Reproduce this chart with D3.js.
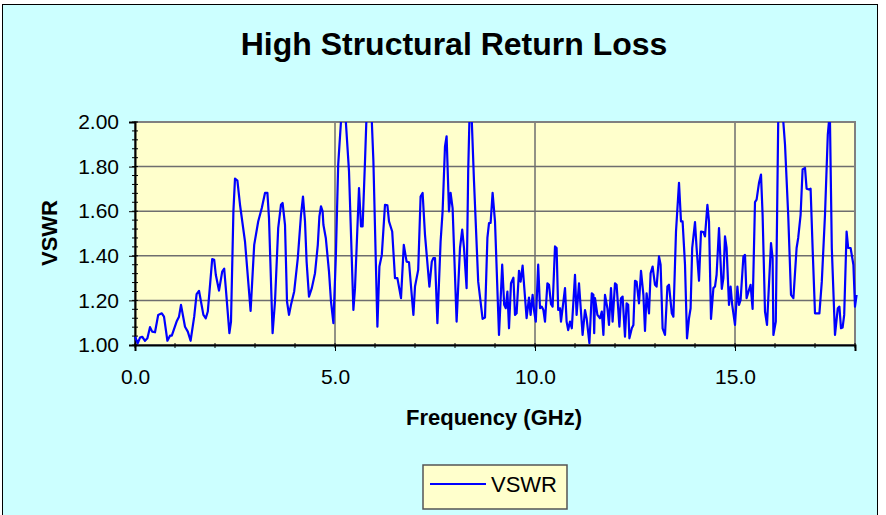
<!DOCTYPE html>
<html>
<head>
<meta charset="utf-8">
<script src="https://cdn.jsdelivr.net/npm/d3@7"></script>
<style>
  html, body { margin: 0; padding: 0; background: #ffffff; }
  svg { display: block; font-family: "Liberation Sans", Arial, sans-serif; }
</style>
</head>
<body>
<div id="chart"></div>
<script>
// frequency in GHz, VSWR
const freq = [
  0.00, 0.07, 0.125, 0.18, 0.25, 0.31, 0.375, 0.43, 0.50, 0.58, 0.67, 0.725, 0.81, 0.875, 0.92,
  1.04, 1.10, 1.15, 1.25, 1.32, 1.39, 1.48, 1.54, 1.60, 1.71, 1.77, 1.82, 1.93, 1.98,
  2.02, 2.10, 2.18, 2.23, 2.27, 2.36, 2.40, 2.46, 2.50, 2.56, 2.625, 2.75, 2.89, 2.98,
  3.08, 3.17, 3.25, 3.31, 3.35, 3.44, 3.50, 3.58, 3.65, 3.69, 3.75, 3.80, 3.85, 3.90, 3.98,
  4.07, 4.15, 4.20, 4.25, 4.29, 4.35, 4.42, 4.50, 4.57, 4.61, 4.65, 4.69, 4.71, 4.77, 4.85, 4.90, 4.96,
  5.02, 5.08, 5.15, 5.20, 5.27, 5.35, 5.46, 5.50, 5.60, 5.65, 5.69, 5.75, 5.83, 5.92, 5.96,
  6.06, 6.11, 6.17, 6.25, 6.31, 6.35, 6.43, 6.50, 6.56, 6.65, 6.72, 6.79, 6.85, 6.96,
  7.00, 7.08, 7.14, 7.19, 7.25, 7.36, 7.42, 7.46, 7.50, 7.56, 7.64, 7.69, 7.75, 7.79, 7.85, 7.89, 7.94,
  8.04, 8.125, 8.18, 8.225, 8.29, 8.33, 8.36, 8.39, 8.42, 8.475, 8.58, 8.69, 8.75, 8.81, 8.85, 8.89, 8.94,
  9.00, 9.10, 9.18, 9.23, 9.27, 9.31, 9.35, 9.40, 9.46, 9.50, 9.54, 9.60, 9.64, 9.69, 9.79, 9.85, 9.89, 9.94, 9.98,
  10.02, 10.08, 10.125, 10.17, 10.21, 10.25, 10.31, 10.35, 10.40, 10.44, 10.50, 10.54, 10.58, 10.625, 10.65,
  10.75, 10.79, 10.83, 10.875, 10.92,
  11.00, 11.04, 11.10, 11.19, 11.25, 11.29, 11.36, 11.42, 11.46, 11.48, 11.50, 11.56, 11.625, 11.67, 11.71,
  11.75, 11.81, 11.85, 11.90, 11.94,
  12.00, 12.04, 12.11, 12.15, 12.19, 12.25, 12.29, 12.33, 12.36, 12.42, 12.46, 12.50, 12.54, 12.60, 12.65,
  12.71, 12.75, 12.79, 12.85, 12.89, 12.94,
  13.00, 13.04, 13.10, 13.14, 13.19, 13.25, 13.31, 13.35, 13.42, 13.46, 13.525, 13.60, 13.65, 13.69, 13.75,
  13.80, 13.85, 13.89, 13.93,
  14.00, 14.04, 14.10, 14.15, 14.21, 14.25, 14.31, 14.35, 14.40, 14.46, 14.50, 14.54, 14.60, 14.67, 14.71,
  14.75, 14.79, 14.85, 14.89, 14.93,
  15.00, 15.06, 15.10, 15.14, 15.21, 15.25, 15.29, 15.35, 15.39, 15.44, 15.50, 15.54, 15.60, 15.65, 15.69,
  15.75, 15.80, 15.90, 15.94, 15.96,
  16.02, 16.08, 16.14, 16.21, 16.25, 16.33, 16.40, 16.46, 16.54, 16.58, 16.64, 16.69, 16.75, 16.79, 16.85,
  16.89, 16.94,
  17.00, 17.07, 17.11, 17.17, 17.25, 17.32, 17.35, 17.36, 17.375, 17.42, 17.50, 17.57, 17.61, 17.65, 17.69,
  17.73, 17.79, 17.83, 17.89, 17.96,
  18.00, 18.04
];

const vswr = [
  1.037, 1.008, 1.033, 1.037, 1.019, 1.030, 1.080, 1.060, 1.057, 1.135, 1.142, 1.127, 1.019, 1.042, 1.042,
  1.105, 1.127, 1.180, 1.082, 1.060, 1.019, 1.127, 1.228, 1.243, 1.135, 1.120, 1.150, 1.385, 1.382,
  1.315, 1.244, 1.329, 1.342, 1.255, 1.053, 1.105, 1.599, 1.746, 1.737, 1.629, 1.464, 1.153, 1.449,
  1.554, 1.614, 1.682, 1.682, 1.569, 1.053, 1.195, 1.524, 1.629, 1.637, 1.539, 1.195, 1.135, 1.180, 1.240,
  1.390, 1.584, 1.666, 1.554, 1.374, 1.217, 1.255, 1.322, 1.449, 1.577, 1.622, 1.599, 1.539, 1.480, 1.329, 1.195, 1.098,
  1.390, 1.809, 2.004, 2.150, 2.004, 1.779, 1.157, 1.255, 1.704, 1.532, 1.532, 1.824, 2.250, 2.004, 1.824,
  1.082, 1.352, 1.404, 1.629, 1.626, 1.554, 1.509, 1.300, 1.300, 1.210, 1.449, 1.374, 1.371, 1.135,
  1.262, 1.337, 1.666, 1.682, 1.494, 1.262, 1.374, 1.390, 1.390, 1.098, 1.464, 1.599, 1.891, 1.936, 1.599, 1.682, 1.614,
  1.105, 1.435, 1.517, 1.435, 1.255, 1.779, 2.004, 2.200, 2.004, 1.734, 1.284, 1.117, 1.123, 1.480, 1.547, 1.547, 1.682,
  1.554, 1.045, 1.360, 1.180, 1.165, 1.240, 1.075, 1.277, 1.302, 1.135, 1.142, 1.333, 1.284, 1.356, 1.120, 1.213, 1.135, 1.225, 1.150,
  1.105, 1.360, 1.165, 1.172, 1.157, 1.105, 1.277, 1.270, 1.183, 1.172, 1.442, 1.435, 1.157, 1.165, 1.105,
  1.255, 1.105, 1.067, 1.105, 1.075,
  1.315, 1.135, 1.277, 1.045, 1.157, 1.120, 1.008, 1.232, 1.225, 1.053, 1.210, 1.135, 1.120, 1.150, 1.045,
  1.225, 1.165, 1.090, 1.255, 1.105,
  1.277, 1.270, 1.082, 1.210, 1.217, 1.037, 1.187, 1.180, 1.030, 1.075, 1.090, 1.288, 1.284, 1.187, 1.333,
  1.225, 1.063, 1.232, 1.142, 1.322, 1.352,
  1.270, 1.262, 1.397, 1.360, 1.075, 1.045, 1.262, 1.270, 1.142, 1.127, 1.509, 1.727, 1.554, 1.554, 1.360,
  1.030, 1.120, 1.165, 1.435,
  1.551, 1.435, 1.288, 1.509, 1.506, 1.487, 1.629, 1.554, 1.117, 1.255, 1.262, 1.315, 1.524, 1.252, 1.300,
  1.487, 1.435, 1.180, 1.262, 1.180,
  1.090, 1.262, 1.180, 1.202, 1.397, 1.404, 1.210, 1.247, 1.270, 1.162, 1.641, 1.652, 1.727, 1.764, 1.584,
  1.150, 1.090, 1.457, 1.390, 1.045,
  1.105, 1.996, 2.100, 1.996, 1.899, 1.584, 1.225, 1.210, 1.435, 1.480, 1.584, 1.787, 1.794, 1.701, 1.697,
  1.701, 1.435,
  1.142, 1.142, 1.142, 1.284, 1.584, 1.944, 2.004, 2.060, 1.996, 1.435, 1.045, 1.165, 1.172, 1.075, 1.078,
  1.135, 1.509, 1.435, 1.435, 1.360,
  1.172, 1.225
];

const xTicks = [0, 5, 10, 15];
const yTicks = [1.0, 1.2, 1.4, 1.6, 1.8, 2.0];
const seriesName = "VSWR";

const W = 886, H = 515;
const margin = { left: 135, top: 122, right: 31, bottom: 170 };
const pw = 855 - 135, ph = 345 - 122;

const svg = d3.select("#chart").append("svg")
  .attr("width", W)
  .attr("height", H);

// chart area
svg.append("rect")
  .attr("x", 2.5).attr("y", 4.5)
  .attr("width", 875).attr("height", 520)
  .attr("fill", "#ccffff")
  .attr("stroke", "#000").attr("stroke-width", 1);

svg.append("text")
  .attr("x", 454).attr("y", 55)
  .attr("text-anchor", "middle")
  .attr("font-size", 32).attr("font-weight", "bold")
  .text("High Structural Return Loss");

const x = d3.scaleLinear().domain([0, 18]).range([0, pw]);
const y = d3.scaleLinear().domain([1, 2]).range([ph, 0]);

const g = svg.append("g").attr("transform", `translate(${margin.left},${margin.top})`);

g.append("rect")
  .attr("width", pw).attr("height", ph)
  .attr("fill", "#ffffcc");

// grid
g.selectAll(".hgrid").data(yTicks).enter().append("line")
  .attr("x1", 0).attr("x2", pw)
  .attr("y1", d => y(d)).attr("y2", d => y(d))
  .attr("stroke", "#6e6e6e").attr("stroke-width", 1.5);
g.selectAll(".vgrid").data(xTicks.filter(d => d > 0)).enter().append("line")
  .attr("y1", 0).attr("y2", ph)
  .attr("x1", d => x(d)).attr("x2", d => x(d))
  .attr("stroke", "#6e6e6e").attr("stroke-width", 1.5);

// plot border
g.append("rect")
  .attr("width", pw).attr("height", ph)
  .attr("fill", "none")
  .attr("stroke", "#808080").attr("stroke-width", 2);

// minor ticks
const yMinor = d3.range(1, 2.0001, 0.04);
g.selectAll(".ymin").data(yMinor).enter().append("line")
  .attr("x1", -3).attr("x2", 3)
  .attr("y1", d => y(d)).attr("y2", d => y(d))
  .attr("stroke", "#000").attr("stroke-width", 1);
const xMinor = d3.range(0, 18.001, 1);
g.selectAll(".xmin").data(xMinor).enter().append("line")
  .attr("x1", d => x(d)).attr("x2", d => x(d))
  .attr("y1", ph - 2).attr("y2", ph + 3)
  .attr("stroke", "#000").attr("stroke-width", 1);

// axes
const yAxis = g.append("g")
  .call(d3.axisLeft(y).tickValues(yTicks).tickFormat(d3.format(".2f")).tickSize(6).tickPadding(10));
const xAxis = g.append("g")
  .attr("transform", `translate(0,${ph})`)
  .call(d3.axisBottom(x).tickValues(xTicks).tickFormat(d3.format(".1f")).tickSize(6).tickPadding(18));
[yAxis, xAxis].forEach(a => {
  a.select(".domain").attr("stroke", "#000").attr("stroke-width", 2);
  a.selectAll("text").attr("font-size", 21).attr("fill", "#000")
    .attr("font-family", "Liberation Sans, Arial, sans-serif");
});

// line
svg.append("clipPath").attr("id", "clip")
  .append("rect").attr("x", -2).attr("y", 0).attr("width", pw + 6).attr("height", ph + 2);

const pts = freq.map((f, i) => [f, vswr[i]]);
g.append("path")
  .datum(pts)
  .attr("clip-path", "url(#clip)")
  .attr("fill", "none")
  .attr("stroke", "#0000ff")
  .attr("stroke-width", 2.2)
  .attr("stroke-linejoin", "round")
  .attr("d", d3.line().x(d => x(d[0])).y(d => y(d[1])));

// axis titles
svg.append("text")
  .attr("x", 494).attr("y", 425)
  .attr("text-anchor", "middle")
  .attr("font-size", 22).attr("font-weight", "bold")
  .text("Frequency (GHz)");
svg.append("text")
  .attr("transform", "translate(57,233) rotate(-90)")
  .attr("text-anchor", "middle")
  .attr("font-size", 22).attr("font-weight", "bold")
  .text("VSWR");

// legend
const lg = svg.append("g");
lg.append("rect")
  .attr("x", 423).attr("y", 465).attr("width", 144).attr("height", 44)
  .attr("fill", "#ffffcc").attr("stroke", "#555").attr("stroke-width", 1.5);
lg.append("line")
  .attr("x1", 430).attr("x2", 486).attr("y1", 484).attr("y2", 484)
  .attr("stroke", "#0000ff").attr("stroke-width", 2);
lg.append("text")
  .attr("x", 491).attr("y", 492)
  .attr("font-size", 22)
  .text(seriesName);
</script>
</body>
</html>
